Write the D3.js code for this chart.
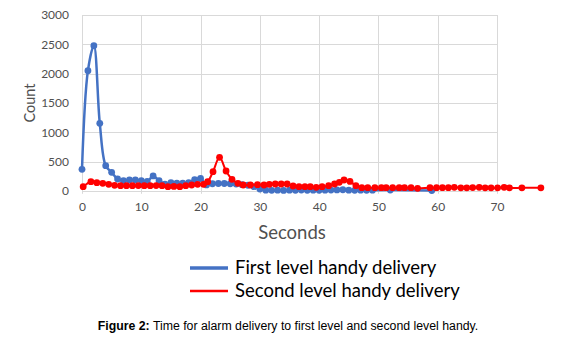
<!DOCTYPE html>
<html>
<head>
<meta charset="utf-8">
<script src="https://cdn.jsdelivr.net/npm/d3@7"></script>
<style>
  html, body { margin: 0; padding: 0; background: #ffffff; }
  svg { display: block; }
</style>
</head>
<body>
<svg id="chart" width="574" height="342"></svg>
<script>
// Alarm delivery counts per second
const xTicks = [0, 10, 20, 30, 40, 50, 60, 70];
const yTicks = [0, 500, 1000, 1500, 2000, 2500, 3000];

const firstSeconds = [0, 1, 2, 3, 4, 5, 6, 7, 8, 9, 10, 11, 12, 13, 14, 15, 16, 17, 18, 19,
  20, 21, 22, 23, 24, 25, 26, 27, 28, 29, 30, 31, 32, 33, 34, 35, 36, 37, 38, 39, 40, 41,
  42, 43, 44, 45, 46, 47, 48, 49, 52, 59];
const firstCounts = [367, 2050, 2476, 1152, 428, 315, 201, 172, 184, 184, 175, 160, 253, 172,
  115, 140, 130, 130, 140, 190, 210, 100, 120, 125, 125, 120, 115, 105, 95, 70, 30, 10,
  8, 10, 6, 10, 8, 12, 8, 10, 8, 10, 12, 15, 18, 10, 8, 10, 8, 10, 12, 5];

const secondSeconds = [0.2, 1.5, 2.5, 3.5, 4.5, 5.5, 6.5, 7.5, 8.5, 9.5, 10.5, 11.5, 12.5,
  13.5, 14.5, 15.5, 16.5, 17.5, 18.5, 19.5, 20.5, 21.2, 22.1, 23.2, 24.3, 25.3, 26.3, 27.2,
  28.4, 29.6, 30.7, 31.6, 32.6, 33.6, 34.6, 35.6, 36.6, 37.6, 38.5, 39.5, 40.5, 41.6, 42.6,
  43.4, 44.2, 45.2, 46.2, 47.2, 48.2, 49.4, 50.5, 51.3, 52.4, 53.5, 54.4, 55.5, 56.6, 58.7,
  59.8, 60.8, 61.8, 62.8, 63.9, 64.9, 65.9, 67.0, 68.0, 69.0, 70.1, 71.2, 72.1, 74.2, 77.4];
const secondCounts = [70, 155, 138, 128, 111, 94, 87, 87, 87, 90, 87, 87, 90, 87, 70, 75, 70,
  87, 99, 111, 111, 155, 326, 572, 338, 196, 128, 99, 99, 105, 99, 111, 116, 116, 116, 82, 70,
  70, 70, 60, 70, 87, 116, 145, 184, 160, 87, 53, 53, 53, 53, 53, 53, 53, 53, 53, 43, 53, 53,
  53, 53, 60, 50, 50, 55, 60, 50, 50, 50, 60, 50, 50, 50];

const seriesNames = ["First level handy delivery", "Second level handy delivery"];
const seriesColors = ["#4472C4", "#FF0000"];

const svg = d3.select("#chart");
const x = d3.scaleLinear().domain([0, 70]).range([82, 497]);
const y = d3.scaleLinear().domain([0, 3000]).range([190.8, 15]);

// gridlines
const grid = svg.append("g").attr("stroke", "#d9d9d9").attr("stroke-width", 1);
grid.selectAll("line.h").data(yTicks).join("line")
  .attr("x1", x(0)).attr("x2", x(70))
  .attr("y1", d => Math.round(y(d)) + 0.5).attr("y2", d => Math.round(y(d)) + 0.5);
grid.selectAll("line.v").data(xTicks).join("line")
  .attr("y1", y(3000)).attr("y2", y(0) + 3)
  .attr("x1", d => Math.round(x(d)) + 0.5).attr("x2", d => Math.round(x(d)) + 0.5);

// axes (labels only; lines come from the grid)
const yAxis = svg.append("g").attr("transform", `translate(${x(0) - 1},0)`)
  .call(d3.axisLeft(y).tickValues(yTicks).tickSize(0).tickPadding(12).tickFormat(d3.format("d")));
yAxis.select(".domain").remove();
yAxis.selectAll("text").attr("font-family", "Lato, 'Open Sans', sans-serif")
  .attr("font-size", 12).attr("fill", "#505050");

const xAxis = svg.append("g").attr("transform", `translate(0,${y(0)})`)
  .call(d3.axisBottom(x).tickValues(xTicks).tickSize(0).tickPadding(12).tickFormat(d3.format("d")));
xAxis.select(".domain").remove();
xAxis.selectAll("text").attr("font-family", "Lato, 'Open Sans', sans-serif")
  .attr("font-size", 12).attr("fill", "#505050");

// axis titles
svg.append("text").attr("x", 292).attr("y", 239).attr("text-anchor", "middle")
  .attr("font-family", "Lato, 'Open Sans', sans-serif").attr("font-size", 18.5)
  .attr("fill", "#505050").text("Seconds");
svg.append("text").attr("transform", "translate(35,103) rotate(-90)")
  .attr("text-anchor", "middle").attr("font-family", "Lato, 'Open Sans', sans-serif")
  .attr("font-size", 14.5).attr("fill", "#505050").text("Count");

// series
function drawSeries(xs, ys, color, width, curve) {
  const pts = xs.map((d, i) => [d, ys[i]]);
  const line = d3.line().x(d => x(d[0])).y(d => y(d[1])).curve(curve);
  const g = svg.append("g");
  g.append("path").datum(pts).attr("d", line).attr("fill", "none")
    .attr("stroke", color).attr("stroke-width", width).attr("stroke-linejoin", "round");
  g.selectAll("circle").data(pts).join("circle")
    .attr("cx", d => x(d[0])).attr("cy", d => y(d[1])).attr("r", 3.4).attr("fill", color);
}
drawSeries(firstSeconds, firstCounts, seriesColors[0], 2.5, d3.curveCatmullRom.alpha(0.5));
drawSeries(secondSeconds, secondCounts, seriesColors[1], 2, d3.curveCatmullRom.alpha(0.5));

// legend
const legend = svg.append("g");
const legendRows = [268, 291];
seriesNames.forEach((name, i) => {
  legend.append("line").attr("x1", 190).attr("x2", 228)
    .attr("y1", legendRows[i]).attr("y2", legendRows[i])
    .attr("stroke", seriesColors[i]).attr("stroke-width", i === 0 ? 3.5 : 2.5);
  legend.append("text").attr("x", 235).attr("y", legendRows[i] + 6)
    .attr("font-family", "Lato, 'Open Sans', sans-serif").attr("font-size", 18.5)
    .attr("fill", "#000000").text(name);
});

// caption
const caption = svg.append("text").attr("x", 288).attr("y", 330).attr("text-anchor", "middle")
  .attr("font-family", "'Liberation Sans', Arial, sans-serif").attr("font-size", 12.3).attr("fill", "#000");
caption.append("tspan").attr("font-weight", "bold").text("Figure 2:");
caption.append("tspan").text(" Time for alarm delivery to first level and second level handy.");
</script>
</body>
</html>
